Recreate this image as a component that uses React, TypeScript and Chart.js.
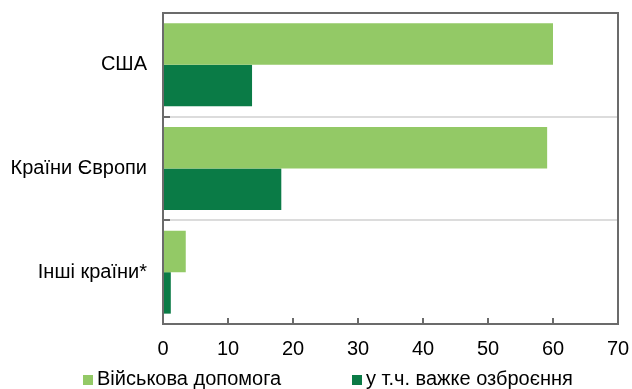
import React, { useEffect, useRef } from "react";
import { Chart, registerables } from "chart.js";

Chart.register(...registerables);

const categories = ["США", "Країни Європи", "Інші країни*"];
const militaryAid = [60, 59.1, 3.5];
const heavyWeapons = [13.7, 18.2, 1.2];
const seriesNames = ["Військова допомога", "у т.ч. важке озброєння"];
const xMin = 0;
const xMax = 70;
const xStep = 10;

const LIGHT = "#93C966";
const DARK = "#0A7B46";
const FONT = "'Liberation Sans', Arial, sans-serif";
const FS = 20;

const framePlugin = {
  id: "frame",
  afterDraw(chart: any) {
    const { ctx, chartArea: a, scales } = chart;
    ctx.save();
    ctx.strokeStyle = "#6b6b6b";
    ctx.lineWidth = 2;
    ctx.strokeRect(a.left, a.top, a.right - a.left, a.bottom - a.top);
    const xs = scales.x;
    ctx.beginPath();
    for (let v = xMin + xStep; v < xMax; v += xStep) {
      const px = Math.round(xs.getPixelForValue(v));
      ctx.moveTo(px, a.bottom);
      ctx.lineTo(px, a.bottom - 6);
    }
    const ys = scales.y;
    for (let i = 0; i < categories.length - 1; i++) {
      const py = Math.round((ys.getPixelForValue(i) + ys.getPixelForValue(i + 1)) / 2);
      ctx.moveTo(a.left, py);
      ctx.lineTo(a.left + 7, py);
    }
    ctx.stroke();
    ctx.restore();
  },
};

export default function App() {
  const ref = useRef<HTMLCanvasElement | null>(null);
  useEffect(() => {
    if (!ref.current) return;
    const chart = new Chart(ref.current, {
      type: "bar",
      data: {
        labels: categories,
        datasets: [
          {
            label: seriesNames[0],
            data: militaryAid,
            backgroundColor: LIGHT,
            categoryPercentage: 0.8,
            barPercentage: 1,
          },
          {
            label: seriesNames[1],
            data: heavyWeapons,
            backgroundColor: DARK,
            categoryPercentage: 0.8,
            barPercentage: 1,
          },
        ],
      },
      options: {
        indexAxis: "y",
        animation: false,
        responsive: false,
        maintainAspectRatio: false,
        layout: { padding: { top: 13, right: 14, left: 0, bottom: 0 } },
        plugins: { legend: { display: false }, tooltip: { enabled: false } },
        scales: {
          x: {
            min: xMin,
            max: xMax,
            ticks: { stepSize: xStep, padding: 13, color: "#000", font: { family: FONT, size: FS } },
            grid: { display: false, drawTicks: false },
            border: { display: false },
            afterFit: (s: any) => {
              s.height = 65;
              s.paddingLeft = 0;
              s.paddingRight = 0;
              s.paddingTop = 0;
              s.paddingBottom = 0;
            },
          },
          y: {
            ticks: { padding: 16, color: "#000", font: { family: FONT, size: FS } },
            grid: { offset: true, color: "#dcdcdc", lineWidth: 2, drawTicks: false },
            border: { display: false },
            afterFit: (s: any) => {
              s.width = 163;
              s.paddingLeft = 0;
              s.paddingRight = 0;
              s.paddingTop = 0;
              s.paddingBottom = 0;
            },
          },
        },
      },
      plugins: [framePlugin],
    });
    return () => chart.destroy();
  }, []);

  const legendItem = (color: string, text: string, left: number) => (
    <div
      style={{
        position: "absolute",
        left,
        top: 367,
        display: "flex",
        alignItems: "center",
        fontFamily: FONT,
        fontSize: FS,
        color: "#000",
        whiteSpace: "nowrap",
        lineHeight: "22px",
      }}
    >
      <span style={{ display: "inline-block", width: 10, height: 10, background: color, marginRight: 4, marginTop: 3 }} />
      <span>{text}</span>
    </div>
  );

  return (
    <div style={{ position: "fixed", left: 0, top: 0, width: 632, height: 389, background: "#fff", overflow: "hidden" }}>
      <canvas ref={ref} width={632} height={389} style={{ display: "block" }} />
      {legendItem(LIGHT, seriesNames[0], 83)}
      {legendItem(DARK, seriesNames[1], 352)}
    </div>
  );
}
